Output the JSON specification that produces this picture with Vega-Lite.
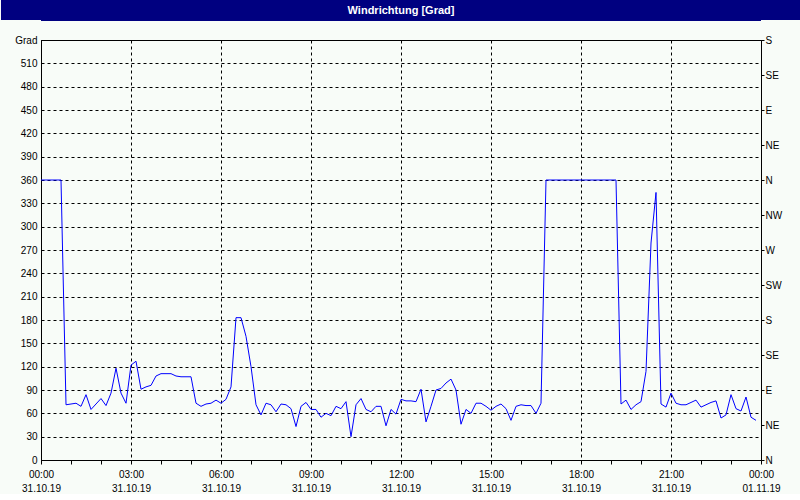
{
  "$schema": "https://vega.github.io/schema/vega-lite/v6.json",
  "background": "#f8fcf8",
  "padding": {"left": 0, "right": 0, "top": -40, "bottom": 0},
  "columns": 1,
  "bounds": "flush",
  "spacing": 19,
  "config": {
    "font": "Liberation Sans",
    "axis": {
      "labelFont": "Liberation Sans",
      "labelFontSize": 10,
      "labelColor": "#000000",
      "domainColor": "#000000",
      "tickColor": "#000000",
      "gridColor": "#000000",
      "gridDash": [3, 3],
      "gridWidth": 1,
      "domainWidth": 1
    }
  },
  "concat": [
    {
      "width": 720,
      "height": 21,
      "view": {
        "fill": "#000080",
        "stroke": "#000080",
        "strokeWidth": 80,
        "strokeDash": [20, 722, 20, 720],
        "strokeDashOffset": 762,
        "strokeCap": "butt",
        "strokeJoin": "bevel"
      },
      "data": {"values": [{"label": "Windrichtung [Grad]"}]},
      "mark": {
        "type": "text",
        "color": "#ffffff",
        "font": "Liberation Sans Narrow, Liberation Sans",
        "fontWeight": "bold",
        "fontSize": 11,
        "baseline": "middle",
        "align": "center"
      },
      "encoding": {"text": {"field": "label"}}
    },
    {
      "width": 720,
      "height": 420,
      "view": {"stroke": "#000000", "fill": "#f8fcf8"},
      "data": {
        "values": [
          {"t": "2019-10-31T00:00Z", "v": 360}, {"t": "2019-10-31T00:10Z", "v": 360}, {"t": "2019-10-31T00:20Z", "v": 360},
          {"t": "2019-10-31T00:30Z", "v": 360}, {"t": "2019-10-31T00:40Z", "v": 360}, {"t": "2019-10-31T00:50Z", "v": 71},
          {"t": "2019-10-31T01:00Z", "v": 72}, {"t": "2019-10-31T01:10Z", "v": 73}, {"t": "2019-10-31T01:20Z", "v": 69},
          {"t": "2019-10-31T01:30Z", "v": 84}, {"t": "2019-10-31T01:40Z", "v": 65}, {"t": "2019-10-31T01:50Z", "v": 72},
          {"t": "2019-10-31T02:00Z", "v": 79}, {"t": "2019-10-31T02:10Z", "v": 70}, {"t": "2019-10-31T02:20Z", "v": 86},
          {"t": "2019-10-31T02:30Z", "v": 118}, {"t": "2019-10-31T02:40Z", "v": 86}, {"t": "2019-10-31T02:50Z", "v": 73},
          {"t": "2019-10-31T03:00Z", "v": 122}, {"t": "2019-10-31T03:10Z", "v": 127}, {"t": "2019-10-31T03:20Z", "v": 91},
          {"t": "2019-10-31T03:30Z", "v": 94}, {"t": "2019-10-31T03:40Z", "v": 96}, {"t": "2019-10-31T03:50Z", "v": 108},
          {"t": "2019-10-31T04:00Z", "v": 111}, {"t": "2019-10-31T04:10Z", "v": 111}, {"t": "2019-10-31T04:20Z", "v": 111},
          {"t": "2019-10-31T04:30Z", "v": 108}, {"t": "2019-10-31T04:40Z", "v": 107}, {"t": "2019-10-31T04:50Z", "v": 107},
          {"t": "2019-10-31T05:00Z", "v": 107}, {"t": "2019-10-31T05:10Z", "v": 73}, {"t": "2019-10-31T05:20Z", "v": 69},
          {"t": "2019-10-31T05:30Z", "v": 72}, {"t": "2019-10-31T05:40Z", "v": 73}, {"t": "2019-10-31T05:50Z", "v": 77},
          {"t": "2019-10-31T06:00Z", "v": 73}, {"t": "2019-10-31T06:10Z", "v": 78}, {"t": "2019-10-31T06:20Z", "v": 94},
          {"t": "2019-10-31T06:30Z", "v": 183}, {"t": "2019-10-31T06:40Z", "v": 183}, {"t": "2019-10-31T06:50Z", "v": 159},
          {"t": "2019-10-31T07:00Z", "v": 120}, {"t": "2019-10-31T07:10Z", "v": 71}, {"t": "2019-10-31T07:20Z", "v": 58},
          {"t": "2019-10-31T07:30Z", "v": 73}, {"t": "2019-10-31T07:40Z", "v": 71}, {"t": "2019-10-31T07:50Z", "v": 62},
          {"t": "2019-10-31T08:00Z", "v": 72}, {"t": "2019-10-31T08:10Z", "v": 71}, {"t": "2019-10-31T08:20Z", "v": 66},
          {"t": "2019-10-31T08:30Z", "v": 43}, {"t": "2019-10-31T08:40Z", "v": 69}, {"t": "2019-10-31T08:50Z", "v": 74},
          {"t": "2019-10-31T09:00Z", "v": 65}, {"t": "2019-10-31T09:10Z", "v": 65}, {"t": "2019-10-31T09:20Z", "v": 55},
          {"t": "2019-10-31T09:30Z", "v": 60}, {"t": "2019-10-31T09:40Z", "v": 57}, {"t": "2019-10-31T09:50Z", "v": 69},
          {"t": "2019-10-31T10:00Z", "v": 66}, {"t": "2019-10-31T10:10Z", "v": 75}, {"t": "2019-10-31T10:20Z", "v": 30},
          {"t": "2019-10-31T10:30Z", "v": 71}, {"t": "2019-10-31T10:40Z", "v": 79}, {"t": "2019-10-31T10:50Z", "v": 65},
          {"t": "2019-10-31T11:00Z", "v": 62}, {"t": "2019-10-31T11:10Z", "v": 69}, {"t": "2019-10-31T11:20Z", "v": 69},
          {"t": "2019-10-31T11:30Z", "v": 44}, {"t": "2019-10-31T11:40Z", "v": 65}, {"t": "2019-10-31T11:50Z", "v": 59},
          {"t": "2019-10-31T12:00Z", "v": 78}, {"t": "2019-10-31T12:10Z", "v": 76}, {"t": "2019-10-31T12:20Z", "v": 76},
          {"t": "2019-10-31T12:30Z", "v": 75}, {"t": "2019-10-31T12:40Z", "v": 91}, {"t": "2019-10-31T12:50Z", "v": 49},
          {"t": "2019-10-31T13:00Z", "v": 69}, {"t": "2019-10-31T13:10Z", "v": 90}, {"t": "2019-10-31T13:20Z", "v": 92},
          {"t": "2019-10-31T13:30Z", "v": 99}, {"t": "2019-10-31T13:40Z", "v": 104}, {"t": "2019-10-31T13:50Z", "v": 90},
          {"t": "2019-10-31T14:00Z", "v": 46}, {"t": "2019-10-31T14:10Z", "v": 65}, {"t": "2019-10-31T14:20Z", "v": 60},
          {"t": "2019-10-31T14:30Z", "v": 73}, {"t": "2019-10-31T14:40Z", "v": 73}, {"t": "2019-10-31T14:50Z", "v": 69},
          {"t": "2019-10-31T15:00Z", "v": 64}, {"t": "2019-10-31T15:10Z", "v": 69}, {"t": "2019-10-31T15:20Z", "v": 72},
          {"t": "2019-10-31T15:30Z", "v": 66}, {"t": "2019-10-31T15:40Z", "v": 51}, {"t": "2019-10-31T15:50Z", "v": 69},
          {"t": "2019-10-31T16:00Z", "v": 71}, {"t": "2019-10-31T16:10Z", "v": 70}, {"t": "2019-10-31T16:20Z", "v": 70},
          {"t": "2019-10-31T16:30Z", "v": 60}, {"t": "2019-10-31T16:40Z", "v": 73}, {"t": "2019-10-31T16:50Z", "v": 360},
          {"t": "2019-10-31T17:00Z", "v": 360}, {"t": "2019-10-31T17:10Z", "v": 360}, {"t": "2019-10-31T17:20Z", "v": 360},
          {"t": "2019-10-31T17:30Z", "v": 360}, {"t": "2019-10-31T17:40Z", "v": 360}, {"t": "2019-10-31T17:50Z", "v": 360},
          {"t": "2019-10-31T18:00Z", "v": 360}, {"t": "2019-10-31T18:10Z", "v": 360}, {"t": "2019-10-31T18:20Z", "v": 360},
          {"t": "2019-10-31T18:30Z", "v": 360}, {"t": "2019-10-31T18:40Z", "v": 360}, {"t": "2019-10-31T18:50Z", "v": 360},
          {"t": "2019-10-31T19:00Z", "v": 360}, {"t": "2019-10-31T19:10Z", "v": 360}, {"t": "2019-10-31T19:20Z", "v": 72},
          {"t": "2019-10-31T19:30Z", "v": 77}, {"t": "2019-10-31T19:40Z", "v": 65}, {"t": "2019-10-31T19:50Z", "v": 71},
          {"t": "2019-10-31T20:00Z", "v": 75}, {"t": "2019-10-31T20:10Z", "v": 114}, {"t": "2019-10-31T20:20Z", "v": 279},
          {"t": "2019-10-31T20:30Z", "v": 344}, {"t": "2019-10-31T20:40Z", "v": 72}, {"t": "2019-10-31T20:50Z", "v": 68},
          {"t": "2019-10-31T21:00Z", "v": 86}, {"t": "2019-10-31T21:10Z", "v": 73}, {"t": "2019-10-31T21:20Z", "v": 71},
          {"t": "2019-10-31T21:30Z", "v": 71}, {"t": "2019-10-31T21:40Z", "v": 74}, {"t": "2019-10-31T21:50Z", "v": 77},
          {"t": "2019-10-31T22:00Z", "v": 68}, {"t": "2019-10-31T22:10Z", "v": 71}, {"t": "2019-10-31T22:20Z", "v": 74},
          {"t": "2019-10-31T22:30Z", "v": 76}, {"t": "2019-10-31T22:40Z", "v": 54}, {"t": "2019-10-31T22:50Z", "v": 58},
          {"t": "2019-10-31T23:00Z", "v": 84}, {"t": "2019-10-31T23:10Z", "v": 66}, {"t": "2019-10-31T23:20Z", "v": 63},
          {"t": "2019-10-31T23:30Z", "v": 81}, {"t": "2019-10-31T23:40Z", "v": 55}, {"t": "2019-10-31T23:50Z", "v": 51}
        ]
      },
      "layer": [
        {
          "mark": {"type": "line", "color": "#0000ff", "strokeWidth": 1},
          "encoding": {
            "x": {
              "field": "t",
              "type": "temporal",
              "scale": {
                "type": "utc",
                "nice": false,
                "domain": [
                  {"year": 2019, "month": 10, "date": 31, "hours": 0, "utc": true},
                  {"year": 2019, "month": 11, "date": 1, "hours": 0, "utc": true}
                ]
              },
              "axis": {
                "orient": "bottom",
                "title": null,
                "values": [
                  {"year": 2019, "month": 10, "date": 31, "hours": 0, "utc": true},
                  {"year": 2019, "month": 10, "date": 31, "hours": 3, "utc": true},
                  {"year": 2019, "month": 10, "date": 31, "hours": 6, "utc": true},
                  {"year": 2019, "month": 10, "date": 31, "hours": 9, "utc": true},
                  {"year": 2019, "month": 10, "date": 31, "hours": 12, "utc": true},
                  {"year": 2019, "month": 10, "date": 31, "hours": 15, "utc": true},
                  {"year": 2019, "month": 10, "date": 31, "hours": 18, "utc": true},
                  {"year": 2019, "month": 10, "date": 31, "hours": 21, "utc": true},
                  {"year": 2019, "month": 11, "date": 1, "hours": 0, "utc": true}
                ],
                "grid": true,
                "ticks": true,
                "tickSize": 4,
                "labelExpr": "[utcFormat(datum.value, '%H:%M'), utcFormat(datum.value, '%d.%m.%y')]",
                "labelOverlap": false,
                "labelFlush": false,
                "labelPadding": 5,
                "labelLineHeight": 14,
                "labelBaseline": "top"
              }
            },
            "y": {
              "field": "v",
              "type": "quantitative",
              "scale": {"domain": [0, 540], "nice": false, "zero": true},
              "axis": {
                "orient": "left",
                "title": null,
                "values": [0, 30, 60, 90, 120, 150, 180, 210, 240, 270, 300, 330, 360, 390, 420, 450, 480, 510, 540],
                "grid": true,
                "ticks": false,
                "labelPadding": 4,
                "labelExpr": "datum.value == 540 ? 'Grad' : datum.label",
                "minExtent": 40,
                "maxExtent": 40
              }
            }
          }
        },
        {
          "mark": {"type": "line", "opacity": 0},
          "encoding": {
            "x": {
              "field": "t",
              "type": "temporal",
              "axis": {
                "orient": "bottom",
                "title": null,
                "values": [
                  {"year": 2019, "month": 10, "date": 31, "hours": 1, "utc": true},
                  {"year": 2019, "month": 10, "date": 31, "hours": 2, "utc": true},
                  {"year": 2019, "month": 10, "date": 31, "hours": 4, "utc": true},
                  {"year": 2019, "month": 10, "date": 31, "hours": 5, "utc": true},
                  {"year": 2019, "month": 10, "date": 31, "hours": 7, "utc": true},
                  {"year": 2019, "month": 10, "date": 31, "hours": 8, "utc": true},
                  {"year": 2019, "month": 10, "date": 31, "hours": 10, "utc": true},
                  {"year": 2019, "month": 10, "date": 31, "hours": 11, "utc": true},
                  {"year": 2019, "month": 10, "date": 31, "hours": 13, "utc": true},
                  {"year": 2019, "month": 10, "date": 31, "hours": 14, "utc": true},
                  {"year": 2019, "month": 10, "date": 31, "hours": 16, "utc": true},
                  {"year": 2019, "month": 10, "date": 31, "hours": 17, "utc": true},
                  {"year": 2019, "month": 10, "date": 31, "hours": 19, "utc": true},
                  {"year": 2019, "month": 10, "date": 31, "hours": 20, "utc": true},
                  {"year": 2019, "month": 10, "date": 31, "hours": 22, "utc": true},
                  {"year": 2019, "month": 10, "date": 31, "hours": 23, "utc": true}
                ],
                "grid": false,
                "domain": false,
                "ticks": true,
                "tickSize": 4,
                "labels": false
              }
            },
            "y": {
              "field": "v",
              "type": "quantitative",
              "axis": {
                "orient": "right",
                "title": null,
                "values": [0, 45, 90, 135, 180, 225, 270, 315, 360, 405, 450, 495, 540],
                "grid": false,
                "ticks": true,
                "tickSize": 3,
                "labelPadding": 1,
                "labelExpr": "datum.value % 360 == 0 ? 'N' : datum.value % 360 == 45 ? 'NE' : datum.value % 360 == 90 ? 'E' : datum.value % 360 == 135 ? 'SE' : datum.value % 360 == 180 ? 'S' : datum.value % 360 == 225 ? 'SW' : datum.value % 360 == 270 ? 'W' : 'NW'",
                "minExtent": 40,
                "maxExtent": 40
              }
            }
          }
        }
      ],
      "resolve": {"axis": {"x": "independent", "y": "independent"}}
    }
  ]
}
